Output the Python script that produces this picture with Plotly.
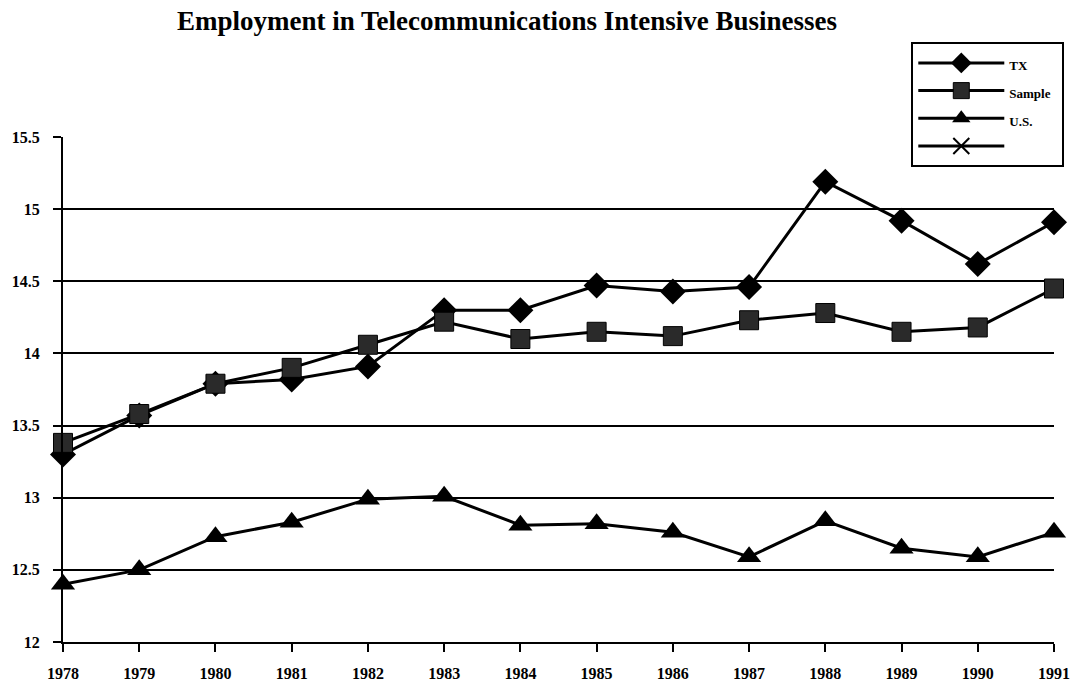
import plotly.graph_objects as go

years = list(range(1978, 1992))
tx = [13.30, 13.57, 13.79, 13.82, 13.91, 14.30, 14.30, 14.47, 14.43, 14.46, 15.19, 14.92, 14.62, 14.91]
sample = [13.38, 13.58, 13.79, 13.90, 14.06, 14.22, 14.10, 14.15, 14.12, 14.23, 14.28, 14.15, 14.18, 14.45]
us = [12.40, 12.50, 12.73, 12.83, 12.99, 13.01, 12.81, 12.82, 12.76, 12.59, 12.84, 12.65, 12.59, 12.76]
y_ticks = [12, 12.5, 13, 13.5, 14, 14.5, 15, 15.5]
series_names = ["TX", "Sample", "U.S.", ""]

FONT = "Liberation Serif"


def leg(name):
    return f"<span style='font-size:13px'><b>{name}</b>&nbsp;&nbsp;</span>" if name else " "


fig = go.Figure()
fig.add_trace(go.Scatter(x=years, y=tx, name=leg(series_names[0]), mode="lines+markers",
                         line=dict(color="black", width=3),
                         marker=dict(symbol="diamond", size=20, color="black"),
                         cliponaxis=False))
fig.add_trace(go.Scatter(x=years, y=sample, name=leg(series_names[1]), mode="lines+markers",
                         line=dict(color="black", width=3),
                         marker=dict(symbol="square", size=19, color="#2a2a2a",
                                     line=dict(color="black", width=1)),
                         cliponaxis=False))
fig.add_trace(go.Scatter(x=years, y=us, name=leg(series_names[2]), mode="lines+markers",
                         line=dict(color="black", width=3),
                         marker=dict(symbol="triangle-up", size=21, color="black"),
                         cliponaxis=False))
fig.add_trace(go.Scatter(x=[None], y=[None], name=leg(series_names[3]), mode="lines+markers",
                         line=dict(color="black", width=3),
                         marker=dict(symbol="x-thin", size=16, color="black",
                                     line=dict(color="black", width=2)),
                         showlegend=True))

fig.update_layout(
    width=1072, height=688,
    margin=dict(l=63, r=18, t=137, b=46, autoexpand=False),
    paper_bgcolor="white", plot_bgcolor="white",
    font=dict(family=FONT, color="black", size=16),
    title=dict(text="<b>Employment in Telecommunications Intensive Businesses</b>",
               x=0.473, xanchor="center", y=0.9695, yanchor="middle",
               font=dict(family=FONT, size=27, color="black")),
    legend=dict(x=0.856, y=1.188, xanchor="left", yanchor="top",
                bordercolor="black", borderwidth=2, bgcolor="white",
                font=dict(family=FONT, size=19, color="black"),
                itemwidth=86, tracegroupgap=0),
    showlegend=True,
)
fig.update_xaxes(range=[1978, 1991], tickvals=years,
                 ticktext=[f"<b>{y}</b>" for y in years],
                 showgrid=False, zeroline=False,
                 showline=True, linecolor="black", linewidth=2,
                 ticks="outside", ticklen=8, tickwidth=2, tickcolor="black",
                 ticklabelstandoff=8, tickfont=dict(family=FONT, size=16))
fig.update_yaxes(range=[12, 15.5], tickvals=y_ticks,
                 ticktext=[f"<b>{v:g}</b>" for v in y_ticks],
                 showgrid=True, gridcolor="black", gridwidth=2, zeroline=False,
                 showline=True, linecolor="black", linewidth=2,
                 ticks="outside", ticklen=8, tickwidth=2, tickcolor="black",
                 ticklabelstandoff=10, tickfont=dict(family=FONT, size=16))

fig.write_html(
    "out.html",
    config={"displayModeBar": False},
    post_script="document.body.style.margin='0';document.body.style.overflow='hidden';",
)
